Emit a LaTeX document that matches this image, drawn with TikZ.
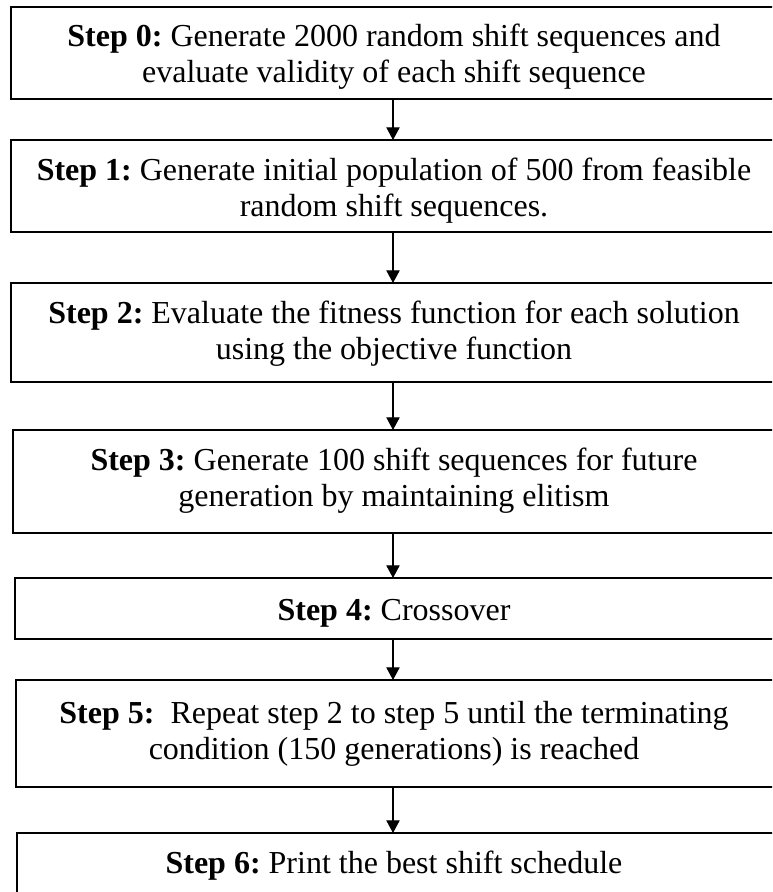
\documentclass[tikz,border=0pt]{standalone}
\usepackage{fontspec}
\setmainfont{Liberation Serif}
\usetikzlibrary{arrows.meta,fit}
\frenchspacing
\begin{document}
\begin{tikzpicture}[x=0.75pt,y=-0.75pt,
  stepbox/.style={draw=black, line width=0.9pt, rectangle, inner sep=0pt, outer sep=0pt},
  steptext/.style={anchor=base, inner sep=0pt, font=\fontsize{24}{27}\selectfont},
  flow/.style={draw=black, line width=0.8pt, -{Triangle[width=10pt,length=9.5pt]}}]
\useasboundingbox (0,0) rectangle (772,892);
\clip (0,0) rectangle (772,892);
% boxes
\node[stepbox, fit={(11,7) (778,99)}] (s0) {};
\node[stepbox, fit={(11,140) (778,232)}] (s1) {};
\node[stepbox, fit={(11,283) (778,382)}] (s2) {};
\node[stepbox, fit={(13,430) (778,533)}] (s3) {};
\node[stepbox, fit={(15,578) (778,639)}] (s4) {};
\node[stepbox, fit={(16,680) (778,787)}] (s5) {};
\node[stepbox, fit={(17,833) (778,905)}] (s6) {};
% texts
\node[steptext] (t0) at (394,47) {\begin{tabular}[t]{@{}c@{}}\textbf{Step 0:} Generate 2000 random shift sequences and\\ evaluate validity of each shift sequence\end{tabular}};
\node[steptext] (t1) at (394,180) {\begin{tabular}[t]{@{}c@{}}\textbf{Step 1:} Generate initial population of 500 from feasible\\ random shift sequences.\end{tabular}};
\node[steptext] (t2) at (394,323) {\begin{tabular}[t]{@{}c@{}}\textbf{Step 2:} Evaluate the fitness function for each solution\\ using the objective function\end{tabular}};
\node[steptext] (t3) at (394,470) {\begin{tabular}[t]{@{}c@{}}\textbf{Step 3:} Generate 100 shift sequences for future\\ generation by maintaining elitism\end{tabular}};
\node[steptext] (t4) at (394,620) {\begin{tabular}[t]{@{}c@{}}\textbf{Step 4:} Crossover\end{tabular}};
\node[steptext] (t5) at (394,723) {\begin{tabular}[t]{@{}c@{}}\textbf{Step 5:}\ \ Repeat step 2 to step 5 until the terminating\\ condition (150 generations) is reached\end{tabular}};
\node[steptext] (t6) at (394,873) {\begin{tabular}[t]{@{}c@{}}\textbf{Step 6:} Print the best shift schedule\end{tabular}};
% connectors
\coordinate (ax) at (393,0);
\draw[flow] (s0.south -| ax) -- (s1.north -| ax);
\draw[flow] (s1.south -| ax) -- (s2.north -| ax);
\draw[flow] (s2.south -| ax) -- (s3.north -| ax);
\draw[flow] (s3.south -| ax) -- (s4.north -| ax);
\draw[flow] (s4.south -| ax) -- (s5.north -| ax);
\draw[flow] (s5.south -| ax) -- (s6.north -| ax);
\end{tikzpicture}
\end{document}
